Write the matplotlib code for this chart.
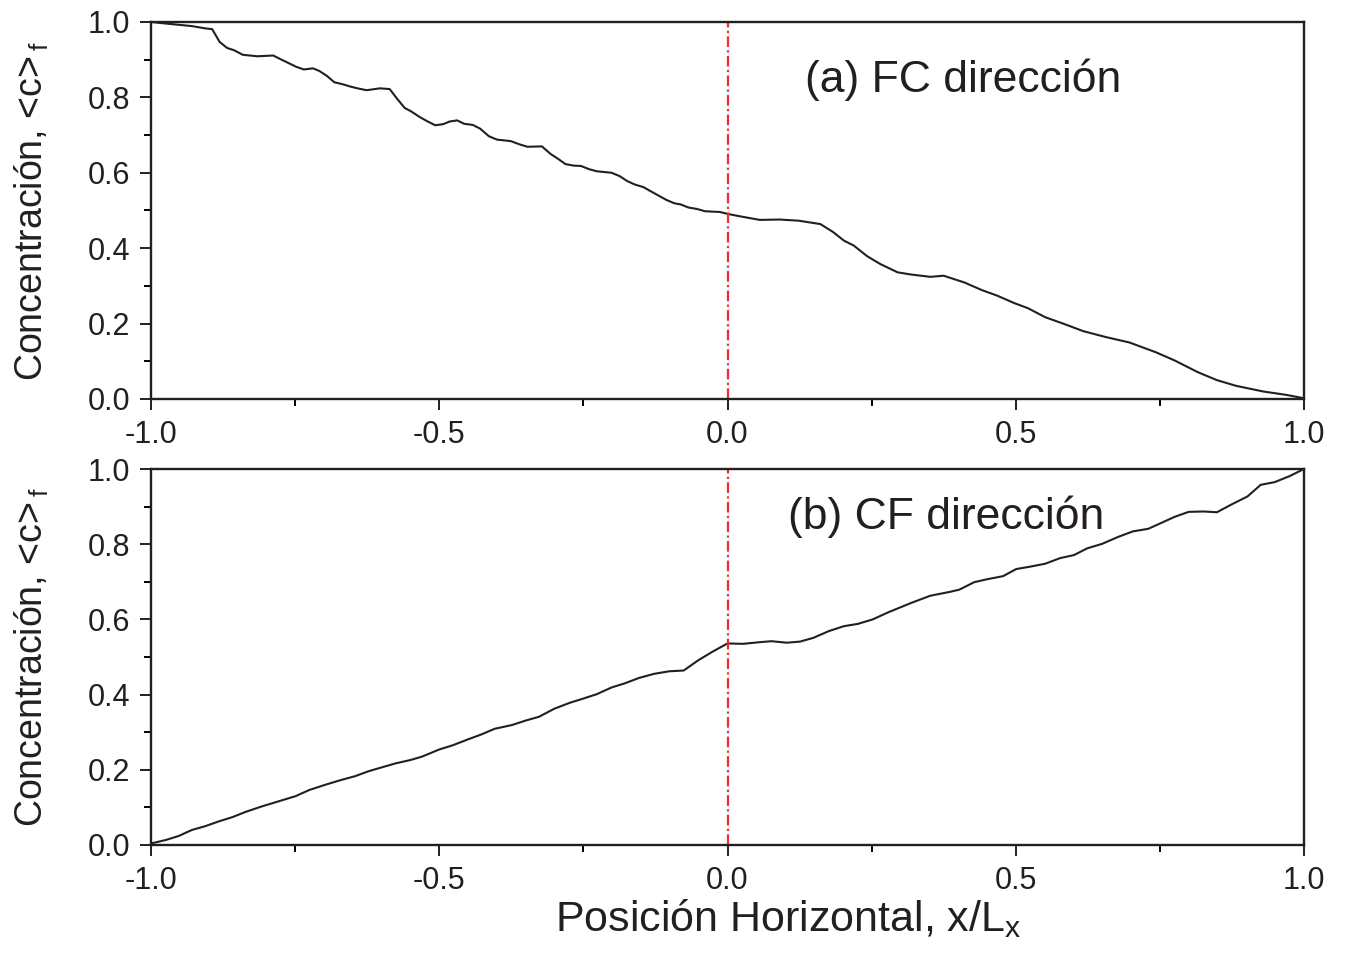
import numpy as np
import matplotlib.pyplot as plt
from matplotlib.ticker import MultipleLocator

plt.rcParams.update(
    {
        "font.family": "Liberation Sans",
        "mathtext.fontset": "custom",
        "mathtext.rm": "Liberation Sans",
        "mathtext.it": "Liberation Sans",
        "axes.unicode_minus": False,
        "axes.linewidth": 1.7,
    }
)

# (a) FC direccion
x_fc = [-1.0, -0.982, -0.929, -0.906, -0.894, -0.881, -0.868, -0.856, -0.841, -0.816,
        -0.788, -0.775, -0.748, -0.735, -0.719, -0.708, -0.695, -0.682, -0.668, -0.655,
        -0.642, -0.626, -0.603, -0.586, -0.573, -0.560, -0.549, -0.533, -0.520, -0.507,
        -0.493, -0.482, -0.469, -0.457, -0.442, -0.429, -0.414, -0.400, -0.376, -0.360,
        -0.347, -0.322, -0.307, -0.294, -0.281, -0.267, -0.254, -0.241, -0.227, -0.201,
        -0.187, -0.174, -0.161, -0.146, -0.132, -0.119, -0.106, -0.092, -0.081, -0.068,
        -0.053, -0.039, -0.013, 0.0, 0.020, 0.056, 0.090, 0.123, 0.161, 0.183,
        0.202, 0.219, 0.242, 0.265, 0.295, 0.319, 0.352, 0.375, 0.411, 0.441,
        0.468, 0.498, 0.521, 0.551, 0.584, 0.617, 0.657, 0.697, 0.743, 0.776,
        0.816, 0.849, 0.882, 0.929, 0.969, 1.0]
c_fc = [1.0, 0.997, 0.989, 0.983, 0.981, 0.947, 0.931, 0.925, 0.913, 0.909,
        0.911, 0.901, 0.881, 0.874, 0.877, 0.870, 0.857, 0.840, 0.835, 0.829,
        0.824, 0.819, 0.824, 0.822, 0.796, 0.772, 0.763, 0.747, 0.736, 0.726,
        0.729, 0.736, 0.739, 0.730, 0.727, 0.717, 0.697, 0.688, 0.684, 0.675,
        0.669, 0.670, 0.650, 0.637, 0.623, 0.619, 0.618, 0.610, 0.604, 0.600,
        0.591, 0.578, 0.569, 0.562, 0.550, 0.539, 0.528, 0.519, 0.516, 0.508,
        0.504, 0.498, 0.496, 0.491, 0.485, 0.475, 0.476, 0.473, 0.464, 0.443,
        0.420, 0.407, 0.379, 0.358, 0.336, 0.330, 0.324, 0.327, 0.309, 0.289,
        0.274, 0.254, 0.241, 0.217, 0.199, 0.180, 0.164, 0.150, 0.124, 0.102,
        0.071, 0.050, 0.035, 0.020, 0.011, 0.002]

# (b) CF direccion
x_cf = [-1.0, -0.975, -0.952, -0.929, -0.906, -0.882, -0.859, -0.836, -0.809, -0.779,
        -0.749, -0.726, -0.696, -0.670, -0.646, -0.623, -0.603, -0.576, -0.550, -0.530,
        -0.500, -0.477, -0.450, -0.427, -0.404, -0.374, -0.350, -0.327, -0.301, -0.274,
        -0.251, -0.227, -0.201, -0.178, -0.154, -0.128, -0.101, -0.076, -0.051, -0.025,
        0.0, 0.027, 0.053, 0.076, 0.103, 0.126, 0.149, 0.176, 0.202, 0.226,
        0.252, 0.279, 0.319, 0.352, 0.385, 0.402, 0.428, 0.451, 0.478, 0.501,
        0.524, 0.551, 0.577, 0.601, 0.624, 0.650, 0.677, 0.703, 0.730, 0.753,
        0.776, 0.800, 0.826, 0.849, 0.876, 0.902, 0.925, 0.949, 0.975, 1.0]
c_cf = [0.004, 0.013, 0.024, 0.040, 0.050, 0.063, 0.074, 0.088, 0.102, 0.116,
        0.130, 0.146, 0.161, 0.173, 0.183, 0.196, 0.205, 0.217, 0.226, 0.235,
        0.254, 0.265, 0.281, 0.294, 0.309, 0.319, 0.331, 0.341, 0.362, 0.378,
        0.389, 0.401, 0.419, 0.430, 0.444, 0.455, 0.462, 0.464, 0.491, 0.515,
        0.536, 0.535, 0.539, 0.542, 0.538, 0.541, 0.551, 0.569, 0.582, 0.588,
        0.600, 0.619, 0.644, 0.663, 0.673, 0.679, 0.699, 0.707, 0.715, 0.734,
        0.740, 0.748, 0.763, 0.771, 0.789, 0.801, 0.819, 0.834, 0.841, 0.857,
        0.873, 0.886, 0.887, 0.885, 0.907, 0.927, 0.958, 0.965, 0.981, 1.0]

panels = [
    (x_fc, c_fc, "(a) FC dirección", 0.134, 0.846),
    (x_cf, c_cf, "(b) CF dirección", 0.105, 0.872),
]

ink = "#231f20"

fig = plt.figure(figsize=(13.45, 9.55), dpi=100)
ax_top = fig.add_axes([0.1123, 0.5822, 0.8572, 0.3948])
ax_bot = fig.add_axes([0.1123, 0.1152, 0.8572, 0.3937])

for ax, (xs, cs, label, tx, ty) in zip([ax_top, ax_bot], panels):
    ax.plot(xs, cs, color=ink, lw=1.5)
    ax.axvline(0.0, color="#ee2b2f", lw=1.6, dashes=(4.8, 1.5, 1.0, 1.5))
    ax.text(tx, ty, label, fontsize=32, va="center", ha="left", color=ink)
    ax.set_xlim(-1, 1)
    ax.set_ylim(0, 1)
    ax.xaxis.set_major_locator(MultipleLocator(0.5))
    ax.xaxis.set_minor_locator(MultipleLocator(0.25))
    ax.yaxis.set_major_locator(MultipleLocator(0.2))
    ax.yaxis.set_minor_locator(MultipleLocator(0.1))
    ax.xaxis.set_major_formatter(lambda v, p: f"{v:.1f}")
    ax.yaxis.set_major_formatter(lambda v, p: f"{v:.1f}")
    ax.tick_params(which="major", direction="out", length=8, width=1.4,
                   labelsize=22, colors=ink, pad=7)
    ax.tick_params(which="minor", direction="out", length=5, width=1.4)
    ax.set_ylabel("Concentración, <c>$\\,_{\\mathrm{f}}$", fontsize=27, color=ink)
    ax.yaxis.set_label_coords(-0.087, 0.5)
    for s in ax.spines.values():
        s.set_color(ink)

ax_bot.set_xlabel("Posición Horizontal, x/L$_{\\mathrm{x}}$", fontsize=31, color=ink)
ax_bot.xaxis.set_label_coords(0.553, -0.14)

fig.savefig("out.png", dpi=100)
